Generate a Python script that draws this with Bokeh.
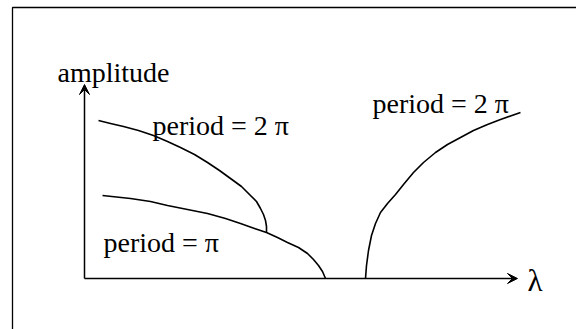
from bokeh.plotting import figure
from bokeh.models import Arrow, VeeHead, Label
from bokeh.embed import file_html
from bokeh.resources import INLINE

# Bifurcation sketch: amplitude of periodic branches against the parameter lambda.

# upper branch, period = 2*pi (left side, ends on the period = pi branch)
lam_2pi_left = [0.14, 0.26, 0.39, 0.54, 0.69, 0.83, 0.96, 1.10, 1.23, 1.35,
                1.46, 1.57, 1.66, 1.72, 1.76, 1.79, 1.81, 1.82, 1.82]
amp_2pi_left = [1.58, 1.55, 1.52, 1.48, 1.43, 1.37, 1.31, 1.24, 1.16, 1.08,
                1.00, 0.92, 0.83, 0.77, 0.70, 0.64, 0.58, 0.52, 0.46]

# lower branch, period = pi (falls to zero amplitude)
lam_pi = [0.18, 0.46, 0.66, 0.83, 1.03, 1.23, 1.41, 1.56, 1.70, 1.82,
          1.93, 2.03, 2.14, 2.23, 2.29, 2.34, 2.38, 2.41]
amp_pi = [0.83, 0.80, 0.77, 0.73, 0.69, 0.65, 0.60, 0.55, 0.50, 0.46,
          0.41, 0.36, 0.31, 0.25, 0.19, 0.13, 0.07, 0.00]

# right branch, period = 2*pi (grows out of zero amplitude)
lam_2pi_right = [2.81, 2.82, 2.84, 2.87, 2.91, 2.96, 3.03, 3.11, 3.19, 3.29,
                 3.39, 3.51, 3.63, 3.76, 3.89, 4.03, 4.16, 4.36]
amp_2pi_right = [0.00, 0.13, 0.28, 0.43, 0.55, 0.66, 0.75, 0.84, 0.94, 1.06,
                 1.16, 1.26, 1.34, 1.41, 1.48, 1.54, 1.59, 1.66]

label_text = ["period = 2 π", "period = 2 π", "period = π"]

X0, X1 = -0.84, 4.92
Y0, Y1 = -0.51, 2.78

p = figure(width=576, height=329, x_range=(X0, X1), y_range=(Y0, Y1),
           output_backend="svg", toolbar_location=None,
           x_axis_type=None, y_axis_type=None, min_border=0)
p.grid.visible = False
p.outline_line_color = None
p.background_fill_color = "white"
p.border_fill_color = "white"

# surrounding box (top and left edges)
p.line([-0.72, -0.72, X1], [Y0, 2.71, 2.71], line_color="black", line_width=1.3)

# axes drawn as arrows
head = dict(size=10, fill_color="black", line_color="black", line_width=1)
p.add_layout(Arrow(end=VeeHead(**head), x_start=0, y_start=0, x_end=0, y_end=1.94,
                   line_color="black", line_width=1.5))
p.add_layout(Arrow(end=VeeHead(**head), x_start=0, y_start=0, x_end=4.33, y_end=0,
                   line_color="black", line_width=1.5))

for xs, ys in [(lam_2pi_left, amp_2pi_left), (lam_pi, amp_pi), (lam_2pi_right, amp_2pi_right)]:
    p.line(xs, ys, line_color="black", line_width=1.6, line_join="round")

font = "Liberation Serif"
txt = dict(text_font=font, text_font_size="28px", text_color="black",
           text_baseline="alphabetic", text_align="left")
p.add_layout(Label(x=-0.27, y=2.06, text="amplitude", **txt))
p.add_layout(Label(x=0.68, y=1.53, text=label_text[0], **txt))
p.add_layout(Label(x=2.88, y=1.75, text=label_text[1], **txt))
p.add_layout(Label(x=0.19, y=0.36, text=label_text[2], **txt))
p.add_layout(Label(x=4.43, y=-0.02, text="λ", text_font=font, text_font_size="31px",
                   text_color="black", text_baseline="alphabetic", text_align="left"))

open("out.html", "w").write(file_html(p, INLINE))
